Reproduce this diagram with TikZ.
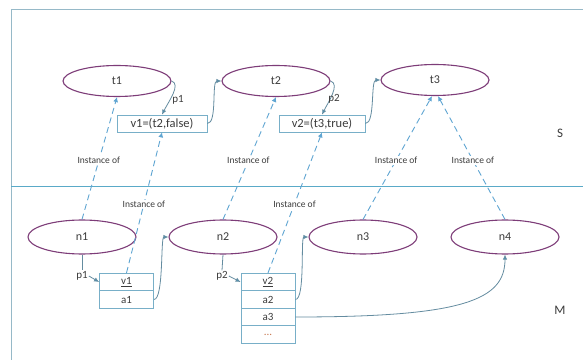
\documentclass[tikz,border=0pt]{standalone}
\usepackage{fontspec}
\setmainfont{Carlito}
\usetikzlibrary{shapes.geometric,arrows.meta}
\definecolor{framec}{RGB}{150,185,200}
\definecolor{sepc}{RGB}{90,170,200}
\definecolor{ellc}{RGB}{125,60,120}
\definecolor{dashc}{RGB}{95,165,210}
\definecolor{linec}{RGB}{100,140,160}
\definecolor{headc}{RGB}{70,150,190}
\definecolor{boxc}{RGB}{120,175,200}
\definecolor{dotc}{RGB}{200,120,80}
\definecolor{txtc}{RGB}{60,60,60}
\tikzset{
  ell/.style={ellipse,draw=ellc,line width=1.1pt,minimum width=108pt,minimum height=31pt,inner sep=0pt,text=txtc,font=\fontsize{12}{13}\selectfont},
  lell/.style={ell,minimum height=34pt},
  vbox/.style={rectangle,draw=boxc,line width=0.8pt,minimum width=90pt,minimum height=17pt,inner sep=0pt,text=txtc,font=\fontsize{12.5}{13}\selectfont},
  cell/.style={rectangle,draw=boxc,line width=0.8pt,minimum width=54pt,minimum height=17.5pt,inner sep=0pt,text=txtc,font=\fontsize{11}{12}\selectfont},
  inst/.style={dashc,dash pattern=on 6pt off 4pt,line width=0.9pt,-{Latex[length=5pt,width=5pt]}},
  conn/.style={linec,line width=0.8pt,-{Latex[length=5pt,width=4.5pt,fill=headc]}},
  instlab/.style={fill=white,inner sep=1pt,text=txtc,font=\fontsize{9.5}{10}\selectfont},
  plab/.style={inner sep=1pt,text=txtc,font=\fontsize{11}{12}\selectfont},
  side/.style={text=txtc,font=\fontsize{13}{14}\selectfont}
}
\begin{document}
\begin{tikzpicture}[x=1pt,y=1pt]
\useasboundingbox (0,0) rectangle (583,359);
\fill[white] (0,0) rectangle (583,359);
% frame
\draw[framec,line width=0.9pt] (11,-10) -- (11,350) -- (600,350);
\draw[sepc,line width=0.9pt] (11,173) -- (583,173);
% upper ellipses
\node[ell] (t1) at (117,278) {t1};
\node[ell] (t2) at (276,278) {t2};
\node[ell] (t3) at (435,279) {t3};
\node[vbox] (v1b) at (162,235.5) {v1=(t2,false)};
\node[vbox,minimum width=86pt] (v2b) at (322,235.5) {v2=(t3,true)};
% lower ellipses
\node[lell] (n1) at (82,122) {n1};
\node[lell] (n2) at (223,122) {n2};
\node[lell] (n3) at (363,122) {n3};
\node[lell] (n4) at (505,122) {n4};
% cells
\node[cell] (v1c) at (126.5,77) {\underline{v1}};
\node[cell] (a1c) at (126.5,59.5) {a1};
\node[cell] (v2c) at (268,77) {\underline{v2}};
\node[cell] (a2c) at (268,59.5) {a2};
\node[cell] (a3c) at (268,42) {a3};
\node[cell,text=dotc] (dc) at (268,24.5) {...};
% side labels
\node[side] (S) at (560,226) {S};
\node[side] (M) at (560,49) {M};
% instance-of arrows
\draw[inst] (n1.north) -- node[instlab,pos=0.48] {Instance of} (t1.south);
\draw[inst] (v1c.north) -- node[instlab,pos=0.49] {Instance of} (v1b.south);
\draw[inst] (n2.north) -- node[instlab,pos=0.48] {Instance of} (t2.south);
\draw[inst] (v2c.north) -- node[instlab,pos=0.49] {Instance of} (v2b.south);
\draw[inst] (n3.north) -- node[instlab,pos=0.48] {Instance of} ([xshift=-3pt]t3.south);
\draw[inst] (n4.north) -- node[instlab,pos=0.48] {Instance of} ([xshift=3pt]t3.south);
% upper solid connectors
\draw[conn] (t1.east) .. controls +(10,-3) and +(6,12) .. (v1b.north);
\node[plab] (p1u) at (178,259) {p1};
\draw[conn] (v1b.east) .. controls +(10,0) and +(-10,0) .. (t2.west);
\draw[conn] (t2.east) .. controls +(10,-3) and +(6,12) .. (v2b.north);
\node[plab] (p2u) at (334,260) {p2};
\draw[conn] (v2b.east) .. controls +(10,0) and +(-10,0) .. (t3.west);
% lower connectors
\node[plab] (p1l) at (82,83) {p1};
\node[plab] (p2l) at (222,83) {p2};
\draw[linec,line width=0.8pt] (n1.south) -- (p1l.north);
\draw[linec,line width=0.8pt] (n2.south) -- (p2l.north);
\draw[conn] (p1l.east) -- (v1c.west);
\draw[conn] (p2l.east) -- (v2c.west);
\draw[conn] (a1c.east) .. controls +(10,0) and +(-8,0) .. (n2.west);
\draw[conn] (a2c.east) .. controls +(10,0) and +(-8,0) .. (n3.west);
\draw[conn] (a3c.east) .. controls +(170,0) and +(0,-45) .. (n4.south);
\end{tikzpicture}
\end{document}
